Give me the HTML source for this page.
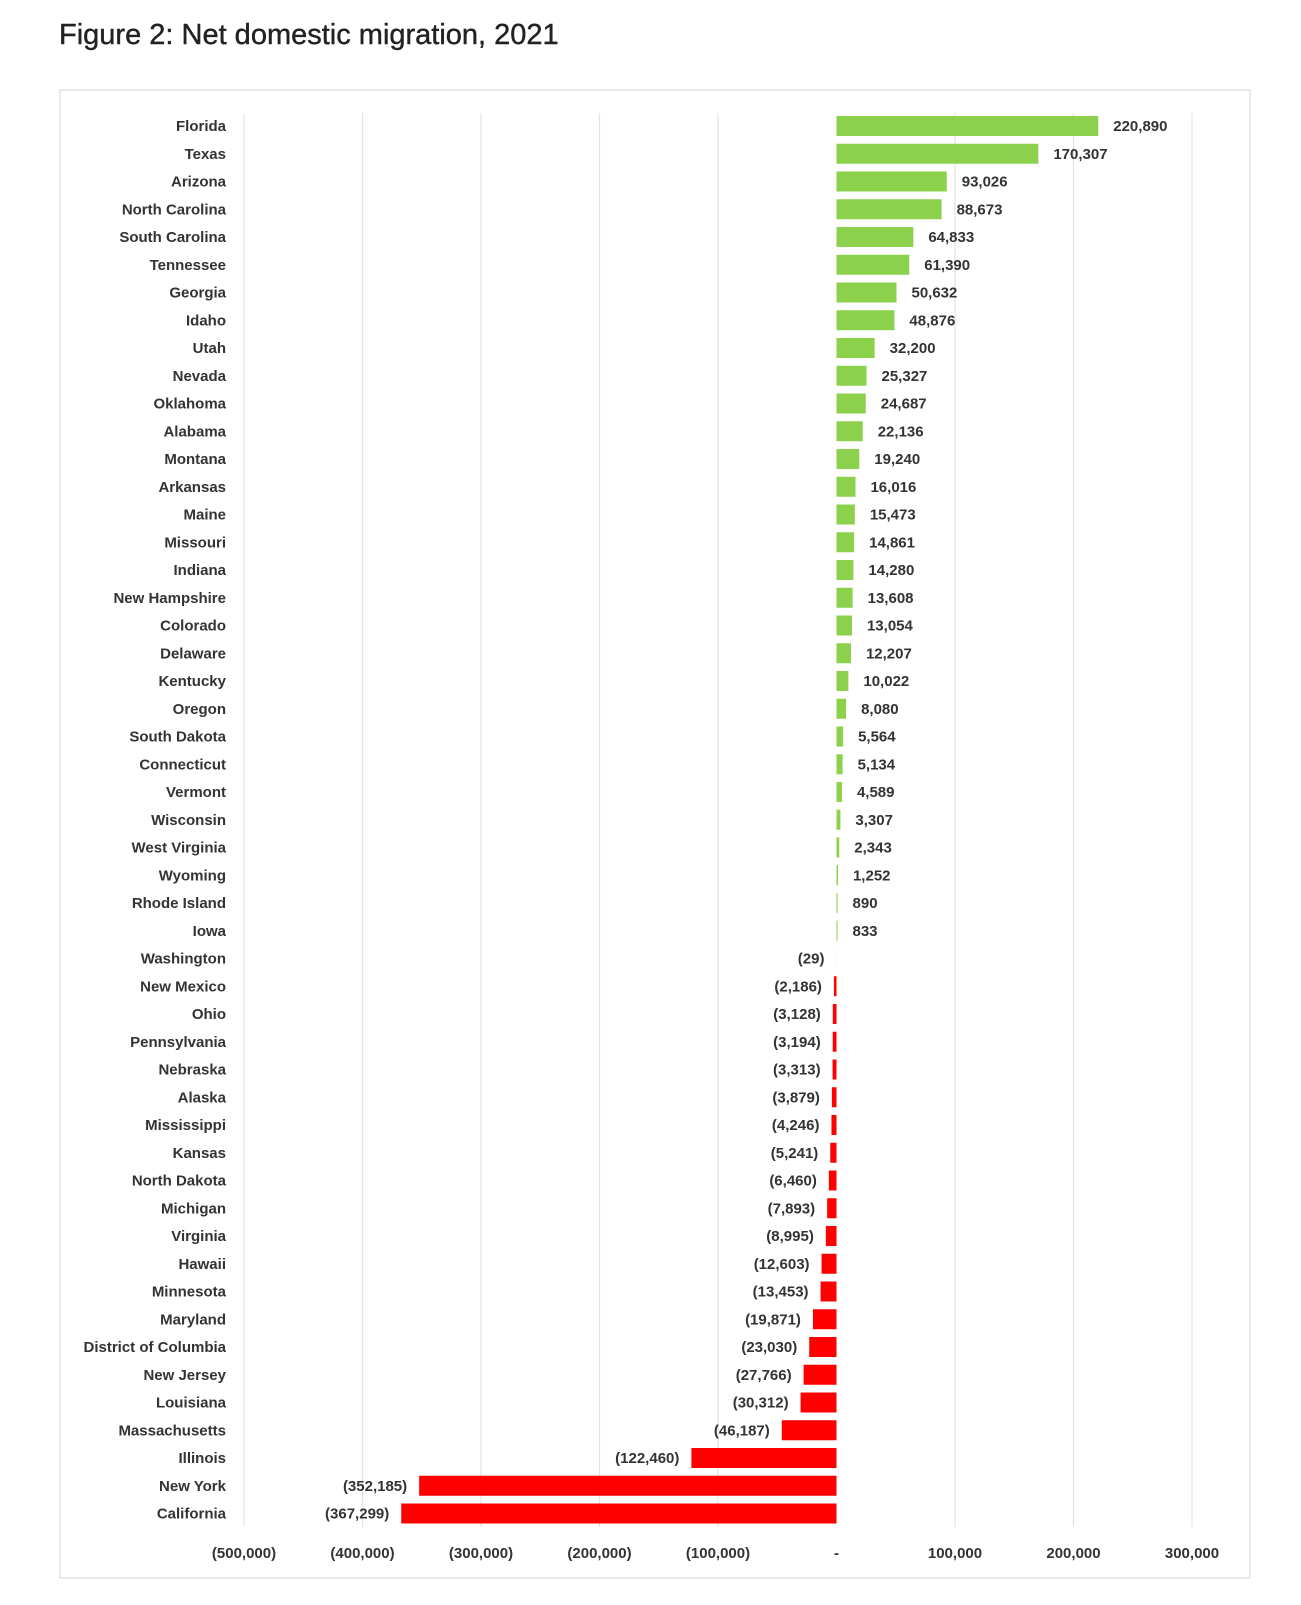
<!DOCTYPE html>
<html><head><meta charset="utf-8"><style>
body{margin:0;background:#fff;width:1301px;height:1600px;overflow:hidden;font-family:"Liberation Sans",sans-serif}
</style></head><body>
<svg id="c" width="1301" height="1600">
<text x="59" y="44" font-size="29" fill="#222" stroke="#222" stroke-width="0.4">Figure 2: Net domestic migration, 2021</text>
<rect x="60" y="90" width="1190" height="1488" fill="#fff" stroke="#e3e3e3" stroke-width="1.5"/>
</svg>
<script>
const states=["Florida","Texas","Arizona","North Carolina","South Carolina","Tennessee","Georgia","Idaho","Utah","Nevada","Oklahoma","Alabama","Montana","Arkansas","Maine","Missouri","Indiana","New Hampshire","Colorado","Delaware","Kentucky","Oregon","South Dakota","Connecticut","Vermont","Wisconsin","West Virginia","Wyoming","Rhode Island","Iowa","Washington","New Mexico","Ohio","Pennsylvania","Nebraska","Alaska","Mississippi","Kansas","North Dakota","Michigan","Virginia","Hawaii","Minnesota","Maryland","District of Columbia","New Jersey","Louisiana","Massachusetts","Illinois","New York","California"];
const values=[220890,170307,93026,88673,64833,61390,50632,48876,32200,25327,24687,22136,19240,16016,15473,14861,14280,13608,13054,12207,10022,8080,5564,5134,4589,3307,2343,1252,890,833,-29,-2186,-3128,-3194,-3313,-3879,-4246,-5241,-6460,-7893,-8995,-12603,-13453,-19871,-23030,-27766,-30312,-46187,-122460,-352185,-367299];
const ticks=[-500000,-400000,-300000,-200000,-100000,0,100000,200000,300000];
const tickLabels=["(500,000)","(400,000)","(300,000)","(200,000)","(100,000)","-","100,000","200,000","300,000"];
const svg=document.getElementById('c');const NS='http://www.w3.org/2000/svg';
const x=v=>836.5+v*0.001185;
const y=i=>126+i*27.75;
function mk(t,a,txt){const e=document.createElementNS(NS,t);for(const k in a)e.setAttribute(k,a[k]);if(txt!=null)e.textContent=txt;svg.appendChild(e);return e;}
const fmt=v=>{const s=Math.abs(v).toLocaleString('en-US');return v<0?'('+s+')':s;};
ticks.forEach((t,i)=>{
 if(t!==0){const g=mk('line',{x1:x(t),x2:x(t),y1:113,y2:1527,stroke:'#e2e2e2','stroke-width':1.2});
 
 }
 const l=mk('text',{x:x(t),y:1558,'text-anchor':'middle','font-size':15,'font-weight':'bold',fill:'#333'},tickLabels[i]);
 
 
});
states.forEach((s,i)=>{
 const v=values[i],cy=y(i);
 const l=mk('text',{x:226,y:cy+5,'text-anchor':'end','font-size':15,'font-weight':'bold',fill:'#333'},s);
 
 
 const x0=Math.min(x(0),x(v)),w=Math.abs(x(v)-x(0));
 const b=mk('rect',{x:x0,y:cy-10,width:w,height:20,fill:v>=0?'#8cd14b':'#ff0000'});
 
 
 const vl=mk('text',{x:v>=0?x(v)+15:x(v)-12,y:cy+5,'text-anchor':v>=0?'start':'end','font-size':15,'font-weight':'bold',fill:'#333'},fmt(v));
 
 
});
</script>
</body></html>
